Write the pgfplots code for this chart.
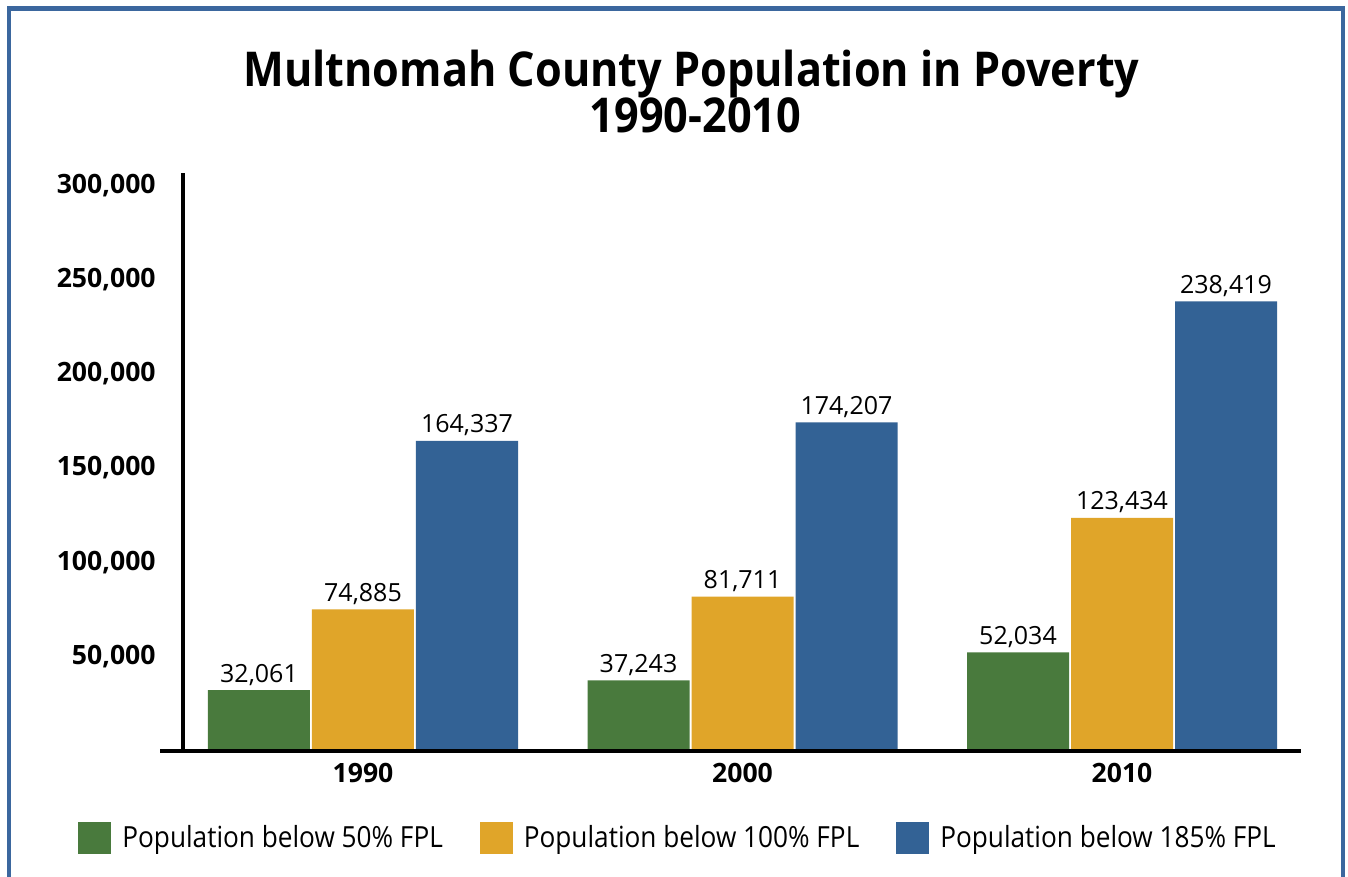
\documentclass[border=0pt]{standalone}
\usepackage{pgfplots}
\pgfplotsset{compat=1.18}
\usepackage{pgfplotstable}
\usepackage{fontspec}
\setmainfont{Open Sans}[FakeStretch=0.9]
\newfontfamily\widefont{Open Sans}
\definecolor{cgreen}{HTML}{497A3D}
\definecolor{corange}{HTML}{E0A529}
\definecolor{cblue}{HTML}{336295}
\definecolor{cframe}{HTML}{3B679E}

\pgfplotstableread{
x y label
0 32061 {32,061}
1 37243 {37,243}
2 52034 {52,034}
}\tabfifty
\pgfplotstableread{
x y label
0 74885 {74,885}
1 81711 {81,711}
2 123434 {123,434}
}\tabhundred
\pgfplotstableread{
x y label
0 164337 {164,337}
1 174207 {174,207}
2 238419 {238,419}
}\tabonefive

\begin{document}
\begin{tikzpicture}
\useasboundingbox (0,0) rectangle (674pt,-438.5pt);
\fill[white] (0,0) rectangle (674pt,-438.5pt);
\draw[cframe, line width=2.3pt] (4.5pt,-470pt) -- (4.5pt,-4.25pt) -- (671.5pt,-4.25pt) -- (671.5pt,-470pt);

\node[font=\bfseries\fontsize{24}{24}\selectfont, anchor=base, inner sep=0pt] at (345.75pt,-43.5pt) {Multnomah County Population in Poverty};
\node[font=\bfseries\fontsize{24}{24}\selectfont, anchor=base, inner sep=0pt] at (347.75pt,-66.5pt) {1990-2010};

\begin{axis}[
  at={(80pt,-375.25pt)}, anchor=south west,
  scale only axis, width=570.5pt, height=288.75pt,
  xmin=-0.5349, xmax=2.4717,
  ymin=0, ymax=306529,
  scaled y ticks=false,
  clip=false,
  axis line style={draw=none},
  major tick length=0pt,
  xtick={0,1,2},
  xticklabels={1990,2000,2010},
  xticklabel style={font=\widefont\bfseries\fontsize{13.3}{13.3}\selectfont, anchor=base, inner sep=0pt, yshift=-16pt},
  ytick={50000,100000,150000,200000,250000,300000},
  yticklabels={{50,000},{100,000},{150,000},{200,000},{250,000},{300,000}},
  yticklabel style={font=\widefont\bfseries\fontsize{13.3}{13.3}\selectfont, anchor=east, inner sep=0pt, xshift=-2pt},
  ybar=1pt, bar width=51pt,
  point meta=explicit symbolic,
  nodes near coords,
  every node near coord/.append style={font=\widefont\fontsize{12.5}{12.5}\selectfont, anchor=base, inner sep=0pt, yshift=4pt, text=black},
  legend columns=3,
  legend style={at={(-0.0719,-0.1515)}, anchor=west, draw=none, fill=none, inner sep=0pt,
    font=\fontsize{14.55}{14.55}\selectfont,
    nodes={inner sep=0pt},
    /tikz/every odd column/.append style={column sep=5.5pt},
    /tikz/every even column/.append style={column sep=18.5pt}},
  legend image code/.code={\fill[#1] (0pt,-8pt) rectangle (16.5pt,8pt);},
]
\addplot[fill=cgreen, draw=none] table[x=x, y=y, meta=label] {\tabfifty};
\addplot[fill=corange, draw=none] table[x=x, y=y, meta=label] {\tabhundred};
\addplot[fill=cblue, draw=none] table[x=x, y=y, meta=label] {\tabonefive};
\legend{Population below 50\% FPL, Population below 100\% FPL, Population below 185\% FPL}
\draw[black, line width=2pt] (rel axis cs:0,0) -- (rel axis cs:1,0);
\draw[black, line width=2pt] (axis cs:-0.4743,0) -- (axis cs:-0.4743,306529);
\end{axis}
\end{tikzpicture}
\end{document}
